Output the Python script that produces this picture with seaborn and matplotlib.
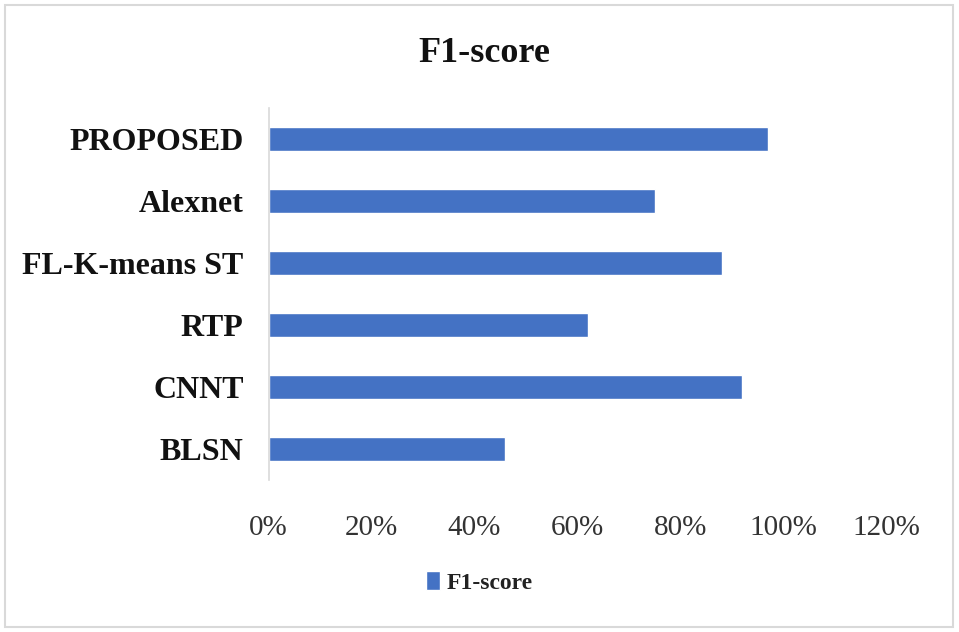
import matplotlib
matplotlib.use('Agg')
import matplotlib.pyplot as plt
import pandas as pd
import seaborn as sns
from matplotlib.patches import Rectangle
from matplotlib.ticker import PercentFormatter

methods = ['PROPOSED', 'Alexnet', 'FL-K-means ST', 'RTP', 'CNNT', 'BLSN']
f1_score = [0.97, 0.75, 0.88, 0.62, 0.92, 0.46]
series = 'F1-score'

df = pd.DataFrame({'method': methods, 'value': f1_score, 'series': series})

sns.set_style('white')
plt.rcParams['font.family'] = ['Liberation Serif', 'DejaVu Serif']

fig = plt.figure(figsize=(9.59, 6.32), dpi=100)
ax = fig.add_axes([0.280, 0.2405, 0.6445, 0.5885])

sns.barplot(data=df, x='value', y='method', hue='series', orient='h',
            palette=['#4472C4'], width=0.39, saturation=1, ax=ax)

ax.set_xlim(0, 1.2)
ax.set_xticks([0, 0.2, 0.4, 0.6, 0.8, 1.0, 1.2])
ax.xaxis.set_major_formatter(PercentFormatter(1.0, decimals=0))
ax.set_xlabel('')
ax.set_ylabel('')
ax.tick_params(axis='x', labelsize=21, colors='#333333', length=0, pad=25)
ax.tick_params(axis='y', labelsize=23, length=0, pad=18)
for lbl in ax.get_yticklabels():
    lbl.set_fontweight('bold')
    lbl.set_color('#111111')

for s in ['top', 'right', 'bottom']:
    ax.spines[s].set_visible(False)
ax.spines['left'].set_color('#d9d9d9')
ax.spines['left'].set_linewidth(1.2)

# title centred on the figure, like the office-style chart
fig.text(0.505, 0.915, 'F1-score', ha='center', va='center',
         fontsize=26, fontweight='bold', color='#111111')

sns.move_legend(ax, 'center', bbox_to_anchor=(0.5, 0.079),
                bbox_transform=fig.transFigure, frameon=False, title=None,
                fontsize=17, handlelength=0.6, handleheight=0.9,
                handletextpad=0.3)
for t in ax.get_legend().get_texts():
    t.set_fontweight('bold')
    t.set_color('#222222')

fig.patches.append(Rectangle((0.005, 0.008), 0.989, 0.984, transform=fig.transFigure,
                             fill=False, edgecolor='#d9d9d9', linewidth=1.5))

fig.savefig('out.png', dpi=100)
